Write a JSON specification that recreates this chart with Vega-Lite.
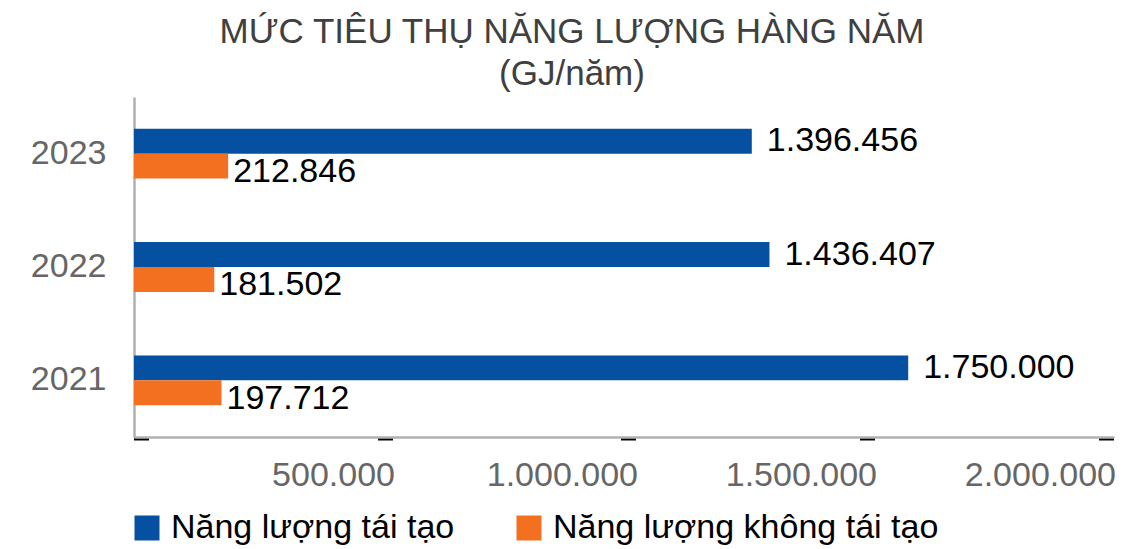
{
  "$schema": "https://vega.github.io/schema/vega-lite/v6.json",
  "width": 980,
  "height": 340,
  "autosize": {"type": "none"},
  "padding": {"left": 134, "top": 97, "right": 20, "bottom": 112},
  "background": "white",
  "config": {
    "font": "Liberation Sans",
    "view": {"stroke": null}
  },
  "title": {
    "text": ["MỨC TIÊU THỤ NĂNG LƯỢNG HÀNG NĂM", "(GJ/năm)"],
    "fontSize": 35,
    "fontWeight": "normal",
    "color": "#404040",
    "lineHeight": 42,
    "anchor": "middle",
    "dx": -52,
    "offset": 5
  },
  "data": {
    "values": [
      {"year": "2023", "series": "Năng lượng tái tạo", "value": 1396456, "label": "1.396.456"},
      {"year": "2023", "series": "Năng lượng không tái tạo", "value": 212846, "label": "212.846"},
      {"year": "2022", "series": "Năng lượng tái tạo", "value": 1436407, "label": "1.436.407"},
      {"year": "2022", "series": "Năng lượng không tái tạo", "value": 181502, "label": "181.502"},
      {"year": "2021", "series": "Năng lượng tái tạo", "value": 1750000, "label": "1.750.000"},
      {"year": "2021", "series": "Năng lượng không tái tạo", "value": 197712, "label": "197.712"}
    ]
  },
  "encoding": {
    "y": {
      "field": "year",
      "type": "nominal",
      "sort": "descending",
      "title": null,
      "scale": {"paddingInner": 0.56, "paddingOuter": 0.28},
      "axis": {
        "domainColor": "#B0B0B0",
        "domainWidth": 2.5,
        "ticks": false,
        "labelPadding": 28,
        "labelFontSize": 34,
        "labelColor": "#666666",
        "labelFont": "Liberation Sans"
      }
    },
    "yOffset": {
      "field": "series",
      "type": "nominal",
      "sort": ["Năng lượng tái tạo", "Năng lượng không tái tạo"],
      "scale": {"paddingInner": 0, "paddingOuter": 0}
    },
    "x": {
      "field": "value",
      "type": "quantitative",
      "title": null,
      "scale": {"domain": [0, 2215200], "nice": false, "zero": true},
      "axis": {
        "values": [16953, 568490, 1117767, 1658002, 2198237],
        "labelExpr": "datum.value < 300000 ? '' : datum.value < 800000 ? '500.000' : datum.value < 1300000 ? '1.000.000' : datum.value < 1900000 ? '1.500.000' : '2.000.000'",
        "grid": false,
        "domainColor": "#B0B0B0",
        "domainWidth": 2.5,
        "tickColor": "black",
        "tickSize": 3,
        "tickWidth": 15,
        "tickCap": "butt",
        "labelAlign": "right",
        "labelOffset": 9,
        "labelBaseline": "top",
        "labelPadding": 18,
        "labelFontSize": 34,
        "labelColor": "#666666",
        "labelFont": "Liberation Sans"
      }
    }
  },
  "layer": [
    {
      "mark": {"type": "bar"},
      "encoding": {
        "color": {
          "field": "series",
          "type": "nominal",
          "scale": {
            "domain": ["Năng lượng tái tạo", "Năng lượng không tái tạo"],
            "range": ["#0550A1", "#F37021"]
          },
          "legend": {
            "title": null,
            "orient": "none",
            "legendX": -4,
            "legendY": 414,
            "direction": "horizontal",
            "columnPadding": 57,
            "symbolType": "square",
            "symbolSize": 625,
            "symbolStrokeWidth": 0,
            "symbolOpacity": 1,
            "labelFontSize": 34,
            "labelColor": "black",
            "labelFont": "Liberation Sans",
            "labelOffset": 7,
            "labelLimit": 600
          }
        }
      }
    },
    {
      "transform": [{"filter": "datum.series == 'Năng lượng tái tạo'"}],
      "mark": {"type": "text", "align": "left", "baseline": "middle", "dx": 15, "fontSize": 34, "color": "black"},
      "encoding": {"text": {"field": "label"}}
    },
    {
      "transform": [{"filter": "datum.series == 'Năng lượng không tái tạo'"}],
      "mark": {"type": "text", "align": "left", "baseline": "middle", "dx": 5, "dy": 6, "fontSize": 34, "color": "black"},
      "encoding": {"text": {"field": "label"}}
    }
  ]
}
